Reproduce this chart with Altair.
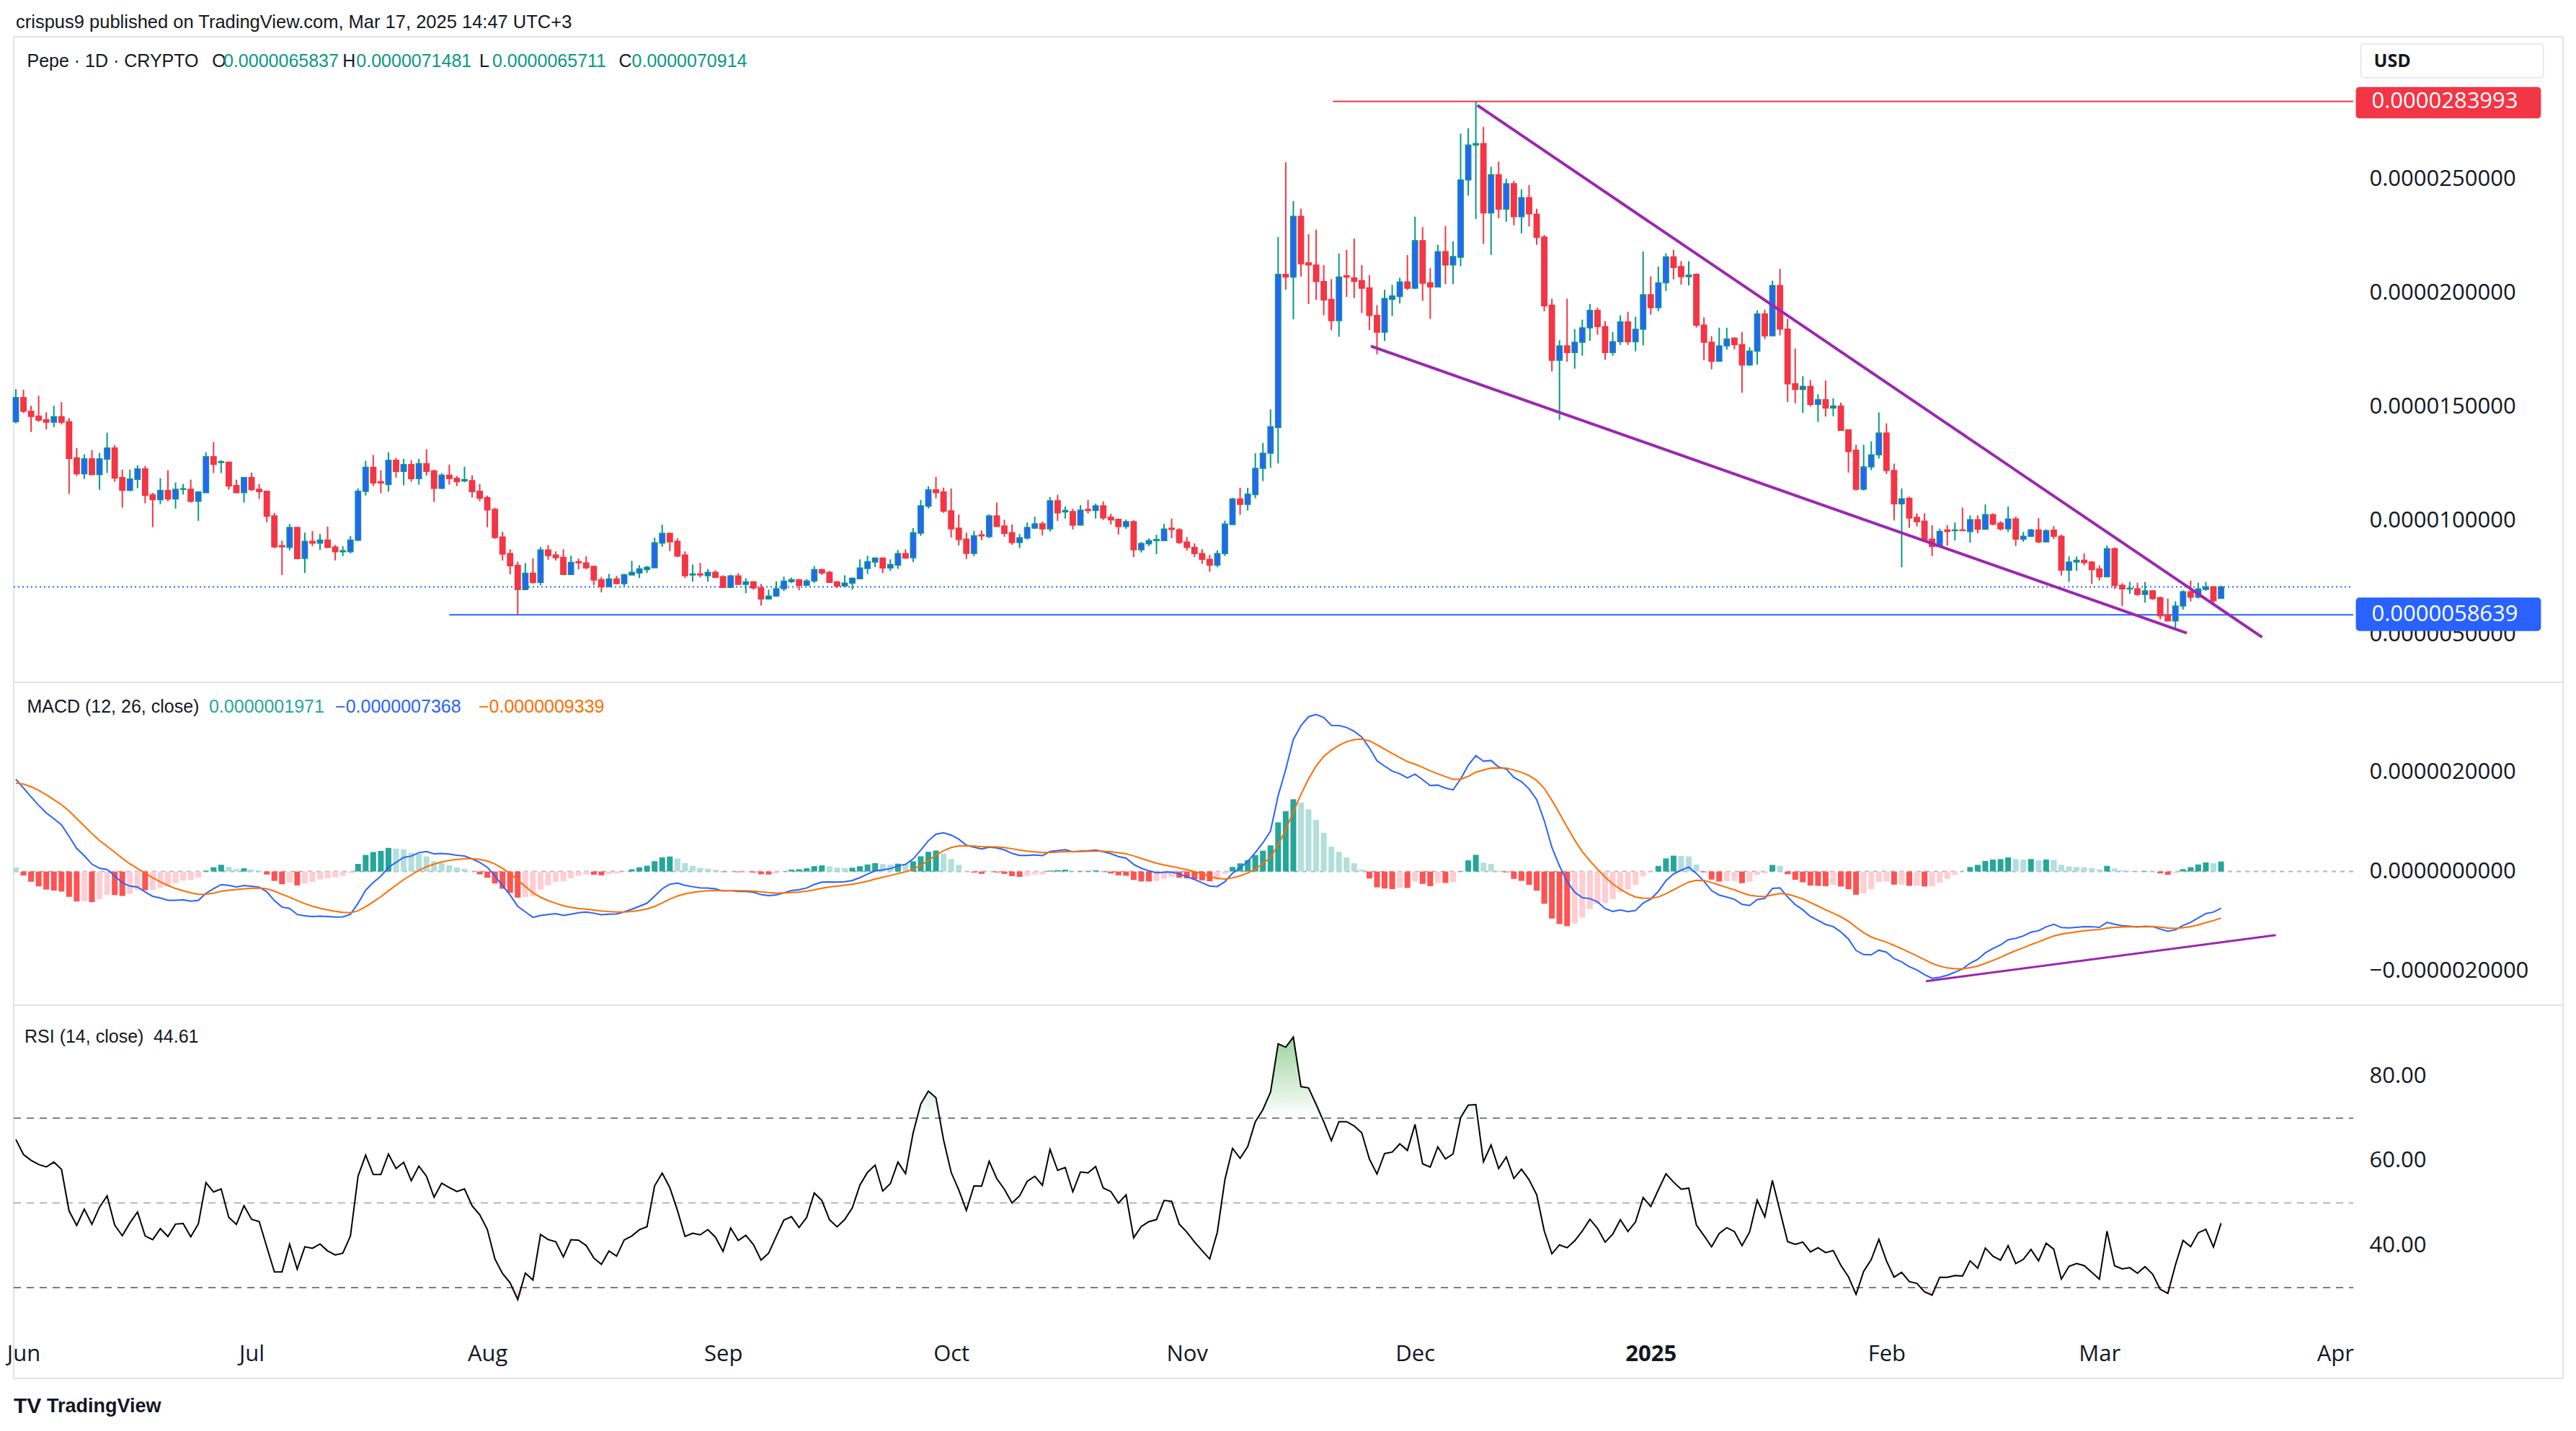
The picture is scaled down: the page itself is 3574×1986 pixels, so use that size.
import altair as alt
import pandas as pd

U = 1e-6  # all price-like arrays below are in units of 1e-6 USD

# ---------------- daily candles, May 31 2024 (index 0) .. Mar 17 2025 (index 290) -------------
opens = [
    14.34, 15.40, 14.80, 14.59, 14.43, 14.32, 14.56, 14.34, 12.75, 12.06,
    12.71, 12.02, 12.70, 13.19, 11.89, 11.33, 11.81, 12.27, 11.13, 10.92,
    11.32, 10.95, 11.37, 11.38, 10.85, 11.23, 12.81, 12.55, 12.56, 11.54,
    11.23, 11.89, 11.38, 11.29, 10.21, 8.90, 8.82, 9.70, 8.34, 9.09,
    9.01, 9.15, 8.84, 8.63, 8.63, 9.14, 11.28, 12.34, 11.71, 11.58,
    12.65, 12.16, 12.46, 11.84, 12.50, 12.18, 11.42, 11.99, 11.86, 11.74,
    11.76, 11.29, 11.01, 10.49, 9.28, 8.55, 8.04, 6.97, 7.69, 7.29,
    8.71, 8.49, 8.39, 7.64, 8.20, 8.14, 7.99, 7.41, 7.10, 7.44,
    7.23, 7.61, 7.70, 7.85, 7.93, 9.01, 9.44, 9.09, 8.49, 7.61,
    7.66, 7.58, 7.73, 7.54, 7.07, 7.57, 7.20, 7.31, 7.04, 6.56,
    6.69, 7.01, 7.32, 7.41, 7.16, 7.35, 7.85, 7.73, 7.31, 7.13,
    7.26, 7.45, 7.90, 8.18, 8.36, 7.92, 8.05, 8.55, 8.37, 9.45,
    10.63, 11.35, 11.26, 10.43, 9.67, 9.19, 8.56, 9.38, 9.30, 10.21,
    9.76, 9.47, 9.04, 9.23, 9.67, 9.86, 9.64, 10.87, 10.38, 10.40,
    9.80, 10.49, 10.44, 10.65, 10.15, 10.06, 9.74, 9.95, 8.72, 8.98,
    9.12, 9.12, 9.67, 9.60, 9.06, 8.82, 8.55, 8.30, 8.05, 8.55,
    9.83, 10.95, 10.71, 11.14, 12.29, 12.96, 14.09, 20.81, 20.69, 23.36,
    21.32, 21.22, 20.49, 19.71, 18.78, 20.75, 20.65, 20.53, 20.22, 19.01,
    18.27, 19.71, 19.84, 20.48, 20.20, 22.29, 20.44, 20.26, 21.81, 21.22,
    21.56, 24.95, 26.49, 26.55, 23.51, 25.18, 23.67, 24.79, 23.34, 24.18,
    23.45, 22.45, 19.46, 17.04, 17.67, 17.38, 17.83, 18.46, 19.23, 18.52,
    17.38, 17.85, 18.72, 17.85, 18.40, 19.92, 19.35, 20.44, 21.58, 21.15,
    20.71, 20.81, 18.58, 17.83, 17.00, 17.67, 18.01, 17.73, 16.83, 17.44,
    19.07, 18.11, 20.32, 18.41, 16.01, 15.76, 15.89, 15.10, 15.31, 14.94,
    15.03, 13.99, 13.09, 11.38, 12.36, 12.89, 13.84, 12.20, 10.74, 10.98,
    10.14, 9.98, 9.19, 8.86, 9.59, 9.56, 9.59, 9.52, 10.04, 9.62,
    10.26, 9.89, 9.64, 10.07, 9.19, 9.31, 9.59, 9.07, 9.58, 9.31,
    7.83, 8.18, 8.26, 8.18, 7.88, 7.53, 8.77, 7.16, 7.00, 7.00,
    6.76, 6.92, 6.62, 5.85, 5.60, 6.25, 6.88, 6.64, 6.98, 7.09,
    6.5837,
]
highs = [
    15.77, 15.74, 15.04, 15.48, 14.75, 15.04, 15.20, 14.50, 13.19, 12.91,
    13.10, 12.97, 13.86, 13.32, 12.24, 12.24, 12.43, 12.40, 11.22, 11.86,
    12.21, 11.67, 11.61, 11.80, 11.29, 13.00, 13.45, 12.65, 12.59, 11.80,
    11.89, 12.11, 11.61, 11.29, 10.34, 9.12, 9.86, 9.70, 9.47, 9.54,
    9.41, 9.74, 8.93, 8.87, 9.32, 11.41, 12.62, 12.88, 12.21, 13.00,
    12.75, 12.71, 12.65, 12.71, 13.13, 12.24, 12.08, 12.46, 11.96, 12.37,
    11.99, 11.61, 11.10, 10.57, 9.51, 8.74, 8.20, 8.14, 8.34, 8.84,
    8.93, 8.65, 8.74, 8.46, 8.33, 8.43, 8.02, 7.53, 7.66, 7.57,
    7.66, 8.23, 8.04, 8.01, 9.25, 9.82, 9.47, 9.22, 8.65, 8.07,
    8.14, 7.88, 7.82, 7.60, 7.63, 7.69, 7.47, 7.34, 7.22, 6.97,
    7.34, 7.54, 7.50, 7.41, 7.44, 8.01, 7.88, 7.79, 7.34, 7.60,
    7.50, 8.30, 8.46, 8.39, 8.39, 8.30, 8.71, 8.74, 9.67, 10.91,
    11.51, 11.92, 11.45, 11.41, 10.27, 9.47, 9.55, 9.57, 10.27, 10.79,
    10.03, 9.83, 9.41, 9.92, 10.17, 9.96, 11.03, 11.13, 10.62, 10.52,
    10.68, 10.91, 10.75, 10.84, 10.30, 10.09, 10.05, 10.02, 9.06, 9.22,
    9.38, 9.86, 10.09, 9.67, 9.28, 9.00, 8.75, 8.50, 8.70, 10.00,
    11.00, 11.44, 11.44, 12.96, 13.41, 14.88, 22.45, 25.73, 24.03, 23.69,
    22.57, 22.77, 21.22, 20.60, 21.72, 21.88, 22.38, 21.22, 20.77, 19.46,
    20.13, 20.35, 20.66, 21.66, 23.34, 22.88, 21.08, 22.11, 22.93, 22.26,
    26.99, 27.22, 28.3993, 27.28, 25.53, 25.76, 25.01, 24.91, 24.54, 24.73,
    23.69, 22.54, 19.74, 17.92, 19.74, 18.41, 18.82, 19.51, 19.35, 18.76,
    18.28, 19.01, 19.17, 18.95, 21.81, 20.72, 21.15, 21.73, 21.88, 21.39,
    21.39, 20.85, 18.92, 18.10, 18.47, 18.47, 18.03, 18.28, 17.61, 19.23,
    19.26, 20.53, 21.05, 18.86, 17.55, 16.34, 16.17, 15.55, 16.15, 15.37,
    15.18, 13.99, 13.33, 13.33, 13.48, 14.75, 14.27, 12.50, 11.41, 11.05,
    10.32, 10.32, 9.80, 9.65, 9.80, 9.92, 10.57, 10.23, 10.23, 10.71,
    10.32, 9.98, 10.62, 10.17, 9.50, 9.64, 10.11, 9.62, 9.76, 9.38,
    8.43, 8.43, 8.56, 8.22, 8.04, 8.91, 8.83, 7.25, 7.31, 7.27,
    7.31, 6.94, 6.66, 6.58, 6.46, 6.94, 7.37, 7.27, 7.31, 7.13,
    7.1481,
]
lows = [
    14.27, 14.72, 13.89, 14.34, 14.00, 14.10, 14.22, 11.17, 11.96, 11.83,
    12.02, 11.35, 12.09, 11.71, 10.57, 11.29, 11.42, 10.76, 9.71, 10.72,
    10.85, 10.53, 11.14, 10.79, 9.99, 11.23, 12.09, 12.09, 11.36, 11.23,
    10.79, 11.30, 10.95, 9.93, 8.79, 7.61, 8.69, 8.31, 7.70, 8.88,
    8.72, 8.79, 8.25, 8.44, 8.56, 9.10, 11.10, 11.52, 11.20, 11.27,
    11.89, 11.55, 11.71, 11.58, 11.97, 10.82, 11.39, 11.58, 11.52, 11.68,
    11.01, 10.85, 9.71, 9.20, 8.25, 7.64, 5.8639, 6.97, 7.23, 7.16,
    8.28, 8.25, 7.61, 7.64, 7.86, 7.86, 7.16, 6.85, 7.07, 7.23,
    7.13, 7.61, 7.48, 7.70, 7.93, 8.85, 8.66, 8.40, 7.48, 7.32,
    7.51, 7.32, 7.48, 7.04, 7.04, 7.20, 6.81, 6.97, 6.27, 6.53,
    6.66, 6.91, 7.26, 6.94, 7.16, 7.26, 7.61, 7.26, 7.04, 7.10,
    6.97, 7.45, 7.66, 7.96, 7.69, 7.79, 7.88, 8.33, 8.18, 9.33,
    10.53, 10.98, 10.34, 9.26, 8.91, 8.31, 8.44, 9.14, 9.23, 9.74,
    9.29, 8.94, 8.79, 9.17, 9.63, 9.35, 9.52, 9.99, 10.09, 9.61,
    9.80, 10.31, 10.09, 10.03, 9.83, 9.39, 9.64, 8.40, 8.60, 8.88,
    8.53, 9.12, 9.23, 8.98, 8.69, 8.40, 8.10, 7.75, 7.95, 8.45,
    9.83, 10.25, 10.44, 10.98, 11.74, 12.32, 12.51, 20.13, 18.84, 20.71,
    19.51, 19.69, 19.01, 18.35, 18.07, 19.82, 19.77, 19.11, 18.37, 17.30,
    17.89, 18.98, 19.53, 20.13, 20.16, 19.65, 18.86, 20.23, 20.38, 20.38,
    21.17, 24.27, 23.24, 22.15, 21.66, 23.27, 23.12, 22.96, 22.61, 22.91,
    22.11, 19.19, 16.55, 14.42, 16.98, 16.67, 17.24, 17.89, 18.16, 17.06,
    17.24, 17.71, 17.71, 17.43, 17.69, 19.04, 19.19, 20.08, 20.59, 20.36,
    20.32, 18.47, 17.04, 16.64, 17.00, 17.50, 17.52, 15.61, 16.79, 16.85,
    17.97, 18.11, 18.13, 15.21, 15.15, 14.73, 15.01, 14.33, 14.57, 14.58,
    13.94, 12.11, 11.32, 11.32, 12.21, 12.72, 12.05, 10.01, 7.95, 9.68,
    9.74, 9.07, 8.44, 8.86, 8.89, 9.13, 9.56, 9.03, 9.44, 9.62,
    9.80, 9.56, 9.50, 8.89, 9.07, 9.28, 9.01, 9.03, 9.19, 7.59,
    7.31, 7.79, 8.04, 7.22, 7.37, 7.53, 7.00, 6.25, 6.78, 6.70,
    6.40, 6.52, 5.66, 5.60, 5.20, 6.09, 6.45, 6.58, 6.92, 6.40,
    6.5711,
]
closes = [
    15.40, 14.80, 14.57, 14.41, 14.32, 14.56, 14.32, 12.73, 12.06, 12.71,
    12.02, 12.71, 13.19, 11.87, 11.33, 11.83, 12.27, 11.11, 10.92, 11.32,
    10.95, 11.38, 11.40, 10.85, 11.26, 12.81, 12.47, 12.59, 11.52, 11.23,
    11.89, 11.36, 11.27, 10.19, 8.85, 8.85, 9.70, 8.33, 9.09, 9.01,
    9.15, 8.82, 8.63, 8.68, 9.15, 11.29, 12.34, 11.65, 11.65, 12.65,
    12.16, 12.46, 11.84, 12.50, 12.16, 11.42, 11.99, 11.84, 11.71, 11.80,
    11.27, 10.98, 10.47, 9.26, 8.53, 8.02, 6.97, 7.69, 7.29, 8.71,
    8.47, 8.37, 7.64, 8.17, 8.15, 7.93, 7.39, 7.10, 7.44, 7.23,
    7.63, 7.73, 7.88, 7.95, 9.03, 9.44, 9.07, 8.44, 7.58, 7.66,
    7.61, 7.73, 7.51, 7.07, 7.57, 7.20, 7.31, 7.04, 6.56, 6.69,
    7.01, 7.34, 7.41, 7.16, 7.35, 7.85, 7.70, 7.29, 7.13, 7.26,
    7.47, 7.92, 8.20, 8.36, 7.92, 8.07, 8.55, 8.36, 9.47, 10.65,
    11.35, 11.23, 10.41, 9.64, 9.17, 8.56, 9.34, 9.33, 10.21, 9.74,
    9.44, 9.04, 9.25, 9.70, 9.86, 9.64, 10.87, 10.34, 10.44, 9.80,
    10.46, 10.44, 10.65, 10.12, 10.03, 9.74, 9.95, 8.72, 9.00, 9.12,
    9.17, 9.63, 9.61, 9.04, 8.82, 8.55, 8.30, 8.05, 8.55, 9.85,
    10.95, 10.71, 11.16, 12.29, 12.96, 14.12, 20.81, 20.69, 23.36, 21.28,
    21.22, 20.49, 19.69, 18.78, 20.69, 20.69, 20.50, 20.20, 19.01, 18.27,
    19.75, 19.86, 20.48, 20.20, 22.29, 20.42, 20.26, 21.81, 21.22, 21.59,
    24.95, 26.49, 26.55, 23.51, 25.18, 23.67, 24.79, 23.34, 24.18, 23.47,
    22.43, 19.43, 17.04, 17.67, 17.38, 17.83, 18.46, 19.23, 18.52, 17.38,
    17.85, 18.72, 17.85, 18.40, 19.92, 19.35, 20.44, 21.58, 21.11, 20.71,
    20.78, 18.58, 17.83, 17.00, 17.67, 17.97, 17.73, 16.83, 17.44, 19.07,
    18.11, 20.32, 18.41, 16.00, 15.76, 15.89, 15.10, 15.31, 14.94, 15.03,
    13.96, 13.03, 11.38, 12.36, 12.89, 13.84, 12.20, 10.74, 10.96, 10.11,
    9.95, 9.16, 8.86, 9.53, 9.53, 9.59, 9.56, 10.04, 9.62, 10.26,
    9.84, 9.64, 10.07, 9.19, 9.31, 9.59, 9.07, 9.56, 9.31, 7.83,
    8.18, 8.26, 8.16, 7.85, 7.53, 8.77, 7.16, 7.00, 7.03, 6.76,
    6.92, 6.58, 5.82, 5.60, 6.25, 6.88, 6.64, 7.00, 7.09, 6.48,
    7.0914,
]

# ---------------- axis ticks / labels ----------------
month_ticks = [1, 31, 62, 93, 123, 154, 184, 215, 246, 274, 305]
month_names = ["Jun", "Jul", "Aug", "Sep", "Oct", "Nov", "Dec", "2025", "Feb", "Mar", "Apr"]
price_ticks = [5, 10, 15, 20, 25]
macd_ticks = [-2, 0, 2]
rsi_ticks = [40, 60, 80]
rsi_levels = [70, 50, 30]

# ---------------- drawings ----------------
resistance = 28.3993
support = 5.8639
last_close = 7.0914
res_from = 173.2
sup_from = 57.0
wedge_upper_x = [192.2, 295.4]
wedge_upper_y = [28.23, 4.88]
wedge_lower_x = [178.2, 285.5]
wedge_lower_y = [17.66, 5.06]
macd_trend_x = [251.2, 297.2]
macd_trend_y = [-2.21, -1.28]

# indicator state before the first visible bar
PREV_CLOSE = 14.34
MACD_INIT = (15.30, 13.30, 1.76)   # ema12, ema26, signal
RSI_INIT = (0.475, 0.30)           # avg gain, avg loss

# ---------------- texts ----------------
header = "crispus9 published on TradingView.com, Mar 17, 2025 14:47 UTC+3"
price_legend = [("Pepe · 1D · CRYPTO", 1.47, "dark"), ("O", 25.8, "dark"), ("0.0000065837", 27.3, "teal"),
                ("H", 42.97, "dark"), ("0.0000071481", 44.77, "teal"), ("L", 60.94, "dark"),
                ("0.0000065711", 62.65, "teal"), ("C", 79.3, "dark"), ("0.0000070914", 81.0, "teal")]
macd_legend = [("MACD (12, 26, close)", 1.46, "dark"), ("0.0000001971", 25.4, "hist"),
               ("\u22120.0000007368", 42.0, "macd"), ("\u22120.0000009339", 60.85, "signal")]
rsi_legend = [("RSI (14, close)", 1.14, "dark"), ("44.61", 18.1, "dark")]

# ---------------- style ----------------
C = {"dark": "#131722", "teal": "#089981", "hist": "#26a69a", "macd": "#2962ff", "signal": "#ff6d00"}
UP_WICK, UP_BODY, DOWN = "#089981", "#2962ff", "#f23645"
PURPLE = "#9c27b0"
FRAME = "#e0e3eb"
SANS = "Liberation Sans"
AXF = "Open Sans"

X_MIN, X_MAX, FRAME_R = -0.284, 307.39, 335.0
PRICE_DOM = [2.90, 31.24]
MACD_DOM = [-2.692, 3.810]
RSI_DOM = [19.29, 96.67]
PW, PH, MH, RH = 3246, 896, 448, 455

# ---------------- derived tables ----------------
N = len(closes)
idx = list(range(N))
candles = pd.DataFrame({"i": idx, "o": [v * U for v in opens], "h": [v * U for v in highs],
                        "l": [v * U for v in lows], "c": [v * U for v in closes]})
up = [c >= o for o, c in zip(opens, closes)]
candles["xl"] = candles["i"] - 0.35
candles["xr"] = candles["i"] + 0.35
candles["wick"] = [UP_WICK if u else DOWN for u in up]
candles["fill"] = [UP_BODY if u else DOWN for u in up]
candles["stroke"] = [UP_WICK if u else DOWN for u in up]

e12, e26, sig = MACD_INIT
macd_v, sig_v, hist_v = [], [], []
for c in closes:
    e12 += (2 / 13) * (c - e12)
    e26 += (2 / 27) * (c - e26)
    m = e12 - e26
    sig += 0.2 * (m - sig)
    macd_v.append(m); sig_v.append(sig); hist_v.append(m - sig)
hcol = []
for k, h in enumerate(hist_v):
    p = hist_v[k - 1] if k > 0 else h
    if h >= 0:
        hcol.append("#26a69a" if h > p else "#b2dfdb")
    else:
        hcol.append("#ff5252" if h < p else "#ffcdd2")
macd_df = pd.DataFrame({"i": idx, "m": [v * U for v in macd_v], "s": [v * U for v in sig_v],
                        "h": [v * U for v in hist_v], "col": hcol, "zero": 0.0})
macd_df["xl"] = macd_df["i"] - 0.38
macd_df["xr"] = macd_df["i"] + 0.38

g, l = RSI_INIT
prev = PREV_CLOSE
rsi_v = []
for c in closes:
    ch = c - prev
    prev = c
    g = (13 * g + max(ch, 0)) / 14
    l = (13 * l + max(-ch, 0)) / 14
    rsi_v.append(100 - 100 / (1 + g / l) if l > 0 else 100.0)
rsi_df = pd.DataFrame({"i": idx, "r": rsi_v, "hi": [max(r, 70) for r in rsi_v],
                       "lo": [min(r, 30) for r in rsi_v], "ob": 70.0, "os": 30.0})

# ---------------- scales & axes ----------------
xscale = alt.Scale(domain=[X_MIN, X_MAX], nice=False, zero=False)
pscale = alt.Scale(domain=[PRICE_DOM[0] * U, PRICE_DOM[1] * U], nice=False, zero=False)
mscale = alt.Scale(domain=[MACD_DOM[0] * U, MACD_DOM[1] * U], nice=False, zero=False)
rscale = alt.Scale(domain=RSI_DOM, nice=False, zero=False)

common_y = dict(orient="right", title=None, ticks=False, domain=False, grid=False, labelFont=AXF,
                labelFontSize=31, labelColor=C["dark"], labelPadding=22, labelAlign="left",
                labelBaseline="middle", labelLimit=600)
paxis = alt.Axis(values=[v * U for v in price_ticks], format=".10f", **common_y)
maxis = alt.Axis(values=[v * U for v in macd_ticks],
                 labelExpr="replace(format(datum.value, '.10f'), '-', '\u2212')", **common_y)
raxis = alt.Axis(values=rsi_ticks, format=".2f", **common_y)

lab_expr = " : ".join(f"datum.value == {t} ? '{n}'" for t, n in zip(month_ticks, month_names)) + " : ''"
bold_tick = month_ticks[month_names.index("2025")]
xaxis = alt.Axis(orient="bottom", values=month_ticks, labelExpr=lab_expr, title=None, ticks=False,
                 domain=False, grid=False, labelFont=AXF, labelFontSize=31, labelColor=C["dark"],
                 labelPadding=14, labelLimit=600,
                 labelFontWeight={"condition": {"test": f"datum.value == {bold_tick}", "value": "bold"},
                                  "value": "normal"})


def make_enc(yscale, yaxis, xax):
    def X(f):
        return alt.X(f, type="quantitative", scale=xscale, axis=xax)

    def Y(f):
        return alt.Y(f, type="quantitative", scale=yscale, axis=yaxis)
    return X, Y


def rules(rows, X, Y, color=FRAME, width=2, dash=None):
    df = pd.DataFrame(rows, columns=["x", "x2", "y", "y2"])
    kw = dict(color=color, strokeWidth=width)
    if dash:
        kw["strokeDash"] = dash
    return alt.Chart(df).mark_rule(**kw).encode(x=X("x"), x2=alt.X2("x2"), y=Y("y"), y2=alt.Y2("y2"))


def texts(items, yval, X, Y, font=SANS, size=25, weight="normal"):
    df = pd.DataFrame({"t": [t for t, _, _ in items], "x": [x for _, x, _ in items],
                       "y": yval, "c": [C.get(k, k) for _, _, k in items]})
    return alt.Chart(df).mark_text(align="left", baseline="middle", font=font, fontSize=size,
                                   fontWeight=weight, limit=0).encode(
        x=X("x"), y=Y("y"), text="t:N", color=alt.Color("c:N", scale=None))


# ---------------- price pane ----------------
Xp, Yp = make_enc(pscale, paxis, None)
pt, pb = PRICE_DOM[1] * U, PRICE_DOM[0] * U
p_frame = rules([[X_MIN, FRAME_R, pt, pt], [X_MIN, X_MIN, pb, pt], [FRAME_R, FRAME_R, pb, pt],
                 [X_MIN, FRAME_R, pb, pb]], Xp, Yp)
p_last = rules([[X_MIN, X_MAX, last_close * U, last_close * U]], Xp, Yp, color="#2962ff", width=2,
               dash=[2, 4])
p_sup = rules([[sup_from, X_MAX, support * U, support * U]], Xp, Yp, color="#2962ff", width=2)
p_res = rules([[res_from, X_MAX, resistance * U, resistance * U]], Xp, Yp, color=DOWN, width=2)
wicks = alt.Chart(candles).mark_rule(strokeWidth=2).encode(
    x=Xp("i"), y=Yp("l"), y2=alt.Y2("h"), color=alt.Color("wick:N", scale=None))
bodies = alt.Chart(candles).mark_rect(strokeWidth=1.5).encode(
    x=Xp("xl"), x2=alt.X2("xr"), y=Yp("o"), y2=alt.Y2("c"),
    fill=alt.Fill("fill:N", scale=None), stroke=alt.Stroke("stroke:N", scale=None))
wedges = alt.Chart(pd.DataFrame({
    "x": wedge_upper_x + wedge_lower_x,
    "y": [v * U for v in wedge_upper_y + wedge_lower_y],
    "k": ["upper", "upper", "lower", "lower"]})).mark_line(color=PURPLE, strokeWidth=4).encode(
    x=Xp("x"), y=Yp("y"), detail="k:N")
boxes = alt.Chart(pd.DataFrame({
    "x": [308.4, 307.8, 307.8], "x2": [332.4, 332.0, 332.0],
    "y": [29.44 * U, 27.68 * U, 5.18 * U], "y2": [30.92 * U, 29.01 * U, 6.60 * U],
    "f": ["#ffffff", DOWN, "#2962ff"], "s": [FRAME, DOWN, "#2962ff"]})).mark_rect(
    cornerRadius=4, strokeWidth=1.5).encode(
    x=Xp("x"), x2=alt.X2("x2"), y=Yp("y"), y2=alt.Y2("y2"),
    fill=alt.Fill("f:N", scale=None), stroke=alt.Stroke("s:N", scale=None))
usd = texts([("USD", 310.1, "dark")], 30.16 * U, Xp, Yp, font=AXF, size=25, weight="bold")
box_labels = alt.Chart(pd.DataFrame({
    "t": [f"{resistance * U:.10f}", f"{support * U:.10f}"], "x": [309.8, 309.8],
    "y": [resistance * U, support * U]})).mark_text(
    align="left", baseline="middle", font=AXF, fontSize=31, color="#ffffff").encode(
    x=Xp("x"), y=Yp("y"), text="t:N")
head = texts([(header, 0.0, "dark")], 31.87 * U, Xp, Yp, size=25.5)
p_leg = texts(price_legend, 30.16 * U, Xp, Yp, size=25)

price = alt.layer(p_frame, p_last, p_sup, p_res, wicks, bodies, wedges, boxes, usd, box_labels,
                  head, p_leg).properties(width=PW, height=PH)

# ---------------- MACD pane ----------------
Xm, Ym = make_enc(mscale, maxis, None)
mt, mb = MACD_DOM[1] * U, MACD_DOM[0] * U
m_frame = rules([[X_MIN, X_MIN, mb, mt], [FRAME_R, FRAME_R, mb, mt], [X_MIN, FRAME_R, mb, mb]], Xm, Ym)
m_zero = rules([[X_MIN, X_MAX, 0.0, 0.0]], Xm, Ym, color="#b2b5be", width=2, dash=[6, 6])
m_hist = alt.Chart(macd_df).mark_rect().encode(
    x=Xm("xl"), x2=alt.X2("xr"), y=Ym("h"), y2=alt.Y2("zero"), color=alt.Color("col:N", scale=None))
m_line = alt.Chart(macd_df).mark_line(color=C["macd"], strokeWidth=2).encode(x=Xm("i"), y=Ym("m"))
s_line = alt.Chart(macd_df).mark_line(color=C["signal"], strokeWidth=2).encode(x=Xm("i"), y=Ym("s"))
m_trend = alt.Chart(pd.DataFrame({"x": macd_trend_x, "y": [v * U for v in macd_trend_y]})).mark_line(
    color=PURPLE, strokeWidth=3).encode(x=Xm("x"), y=Ym("y"))
m_leg = texts(macd_legend, 3.32 * U, Xm, Ym, size=25)
macd = alt.layer(m_frame, m_zero, m_hist, m_line, s_line, m_trend, m_leg).properties(width=PW, height=MH)

# ---------------- RSI pane ----------------
Xr, Yr = make_enc(rscale, raxis, xaxis)
r_bottom = 8.57
r_frame = rules([[X_MIN, X_MIN, r_bottom, RSI_DOM[1]], [FRAME_R, FRAME_R, r_bottom, RSI_DOM[1]],
                 [X_MIN, FRAME_R, r_bottom, r_bottom]], Xr, Yr)
r_dash_dark = rules([[X_MIN, X_MAX, v, v] for v in rsi_levels if v != 50], Xr, Yr,
                    color="#787b86", width=2, dash=[10, 8])
r_dash_mid = rules([[X_MIN, X_MAX, 50, 50]], Xr, Yr, color="#b2b5be", width=2, dash=[10, 8])
ob_fill = alt.Chart(rsi_df).mark_area(color=alt.Gradient(
    gradient="linear", x1=0, x2=0, y1=0, y2=1,
    stops=[alt.GradientStop(color="rgba(76,175,80,0.55)", offset=0),
           alt.GradientStop(color="rgba(76,175,80,0)", offset=1)])).encode(
    x=Xr("i"), y=Yr("hi"), y2=alt.Y2("ob"))
os_fill = alt.Chart(rsi_df).mark_area(color=alt.Gradient(
    gradient="linear", x1=0, x2=0, y1=1, y2=0,
    stops=[alt.GradientStop(color="rgba(242,54,69,0.45)", offset=0),
           alt.GradientStop(color="rgba(242,54,69,0)", offset=1)])).encode(
    x=Xr("i"), y=Yr("lo"), y2=alt.Y2("os"))
r_line = alt.Chart(rsi_df).mark_line(color="#000000", strokeWidth=2).encode(x=Xr("i"), y=Yr("r"))
r_leg = texts(rsi_legend, 89.18, Xr, Yr, size=25)
logo = texts([("TV", -0.28, "dark")], 1.94, Xr, Yr, size=30, weight=900)
brand = texts([("TradingView", 4.08, "dark")], 1.94, Xr, Yr, size=27, weight="bold")
rsi = alt.layer(r_frame, r_dash_dark, r_dash_mid, ob_fill, os_fill, r_line, r_leg, logo,
                brand).properties(width=PW, height=RH)

chart = alt.vconcat(price, macd, rsi, spacing=0).properties(
    bounds="flush", padding={"left": 0, "top": 10, "right": 0, "bottom": 0}, background="white"
).configure_view(stroke="transparent")

chart.save("out.html", embed_options={"renderer": "svg", "actions": False})
